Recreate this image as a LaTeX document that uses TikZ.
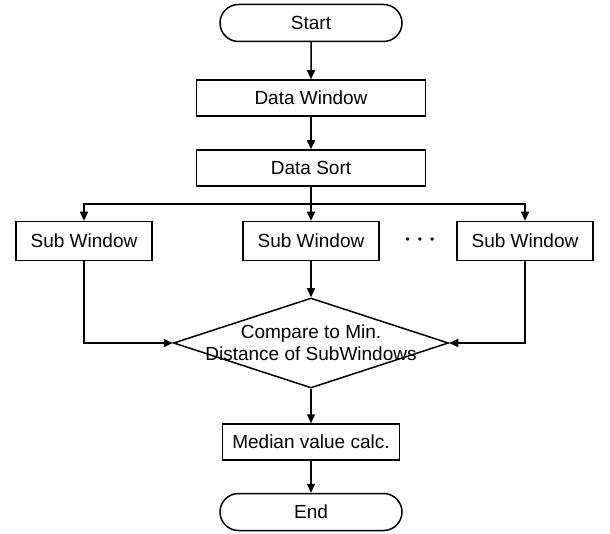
\documentclass[tikz,border=0pt]{standalone}
\usepackage{fontspec}
\setmainfont{Liberation Sans}
\usepackage{tikz}
\usetikzlibrary{arrows.meta,shapes.geometric,shapes.misc}

\begin{document}
\begin{tikzpicture}[
  x=1pt, y=-1pt,
  font=\fontsize{19}{22}\selectfont,
  term/.style={rounded rectangle, draw, line width=1.5pt, minimum width=182pt,
               minimum height=37pt, inner sep=0pt},
  proc/.style={rectangle, draw, line width=1.5pt, minimum width=229pt,
               minimum height=36pt, inner sep=0pt},
  sub/.style={rectangle, draw, line width=1.5pt, minimum width=136pt,
              minimum height=39pt, inner sep=0pt},
  dec/.style={diamond, draw, line width=1.5pt, minimum width=275pt,
              minimum height=90pt, inner sep=0pt},
  rel/.style={-{Triangle[length=9pt,width=8pt]}, line width=1.5pt}
]
\useasboundingbox (0,0) rectangle (610,534);

% main column
\node[term] (start) at (311,23)  {Start};
\node[proc] (win)   at (311,98)  {Data Window};
\node[proc] (sort)  at (311,168) {Data Sort};

% sub windows row
\coordinate (split) at (311,204);
\node[sub] (sw1) at (84,241)  {Sub Window};
\node[sub] (sw2) at (311,241) {Sub Window};
\node (dots) at (420,241) {\fontsize{12}{12}\selectfont •\hspace{8pt}•\hspace{8pt}•};
\node[sub] (sw3) at (525,241) {Sub Window};

\node[dec, label={[align=center]center:{Compare to Min.\\Distance of SubWindows}}]
      (cmp) at (311,343) {};
\node[proc, minimum width=177pt] (calc) at (311,442) {Median value calc.};
\node[term] (stop) at (311,512) {End};

\draw[rel] (start) -- (win);
\draw[rel] (win) -- (sort);
\draw[rel] (sort) -- (sw2);
\draw[rel] (split) -| (sw1);
\draw[rel] (split) -| (sw3);

\draw[rel] (sw1) |- (cmp.west);
\draw[rel] (sw2) -- (cmp.north);
\draw[rel] (sw3) |- (cmp.east);

\draw[rel] (cmp) -- (calc);
\draw[rel] (calc) -- (stop);

\end{tikzpicture}
\end{document}
